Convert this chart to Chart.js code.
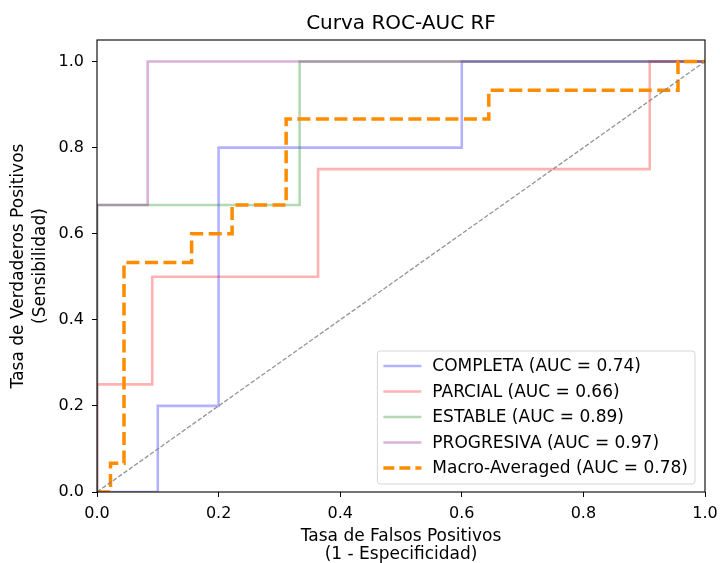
<!DOCTYPE html>
<html>
<head>
<meta charset="utf-8">
<script src="https://cdn.jsdelivr.net/npm/chart.js@4.4.1/dist/chart.umd.min.js"></script>
<style>
    body { margin: 0; background: #fff; }
    #wrap { width: 720px; height: 563px; position: relative; }
</style>
</head>
<body>
<div id="wrap"><canvas id="chart"></canvas></div>
<script>
// curvas ROC (tasa de falsos positivos / verdaderos positivos)
const classNames = ['COMPLETA', 'PARCIAL', 'ESTABLE', 'PROGRESIVA'];
const aucValues = [0.74, 0.66, 0.89, 0.97];
const macroAuc = 0.78;

const fprCompleta = [0, 0.1, 0.1, 0.2, 0.2, 0.6, 0.6, 1];
const tprCompleta = [0, 0, 0.2, 0.2, 0.8, 0.8, 1, 1];

const fprParcial = [0, 0, 0.0909, 0.0909, 0.3636, 0.3636, 0.9091, 0.9091, 1];
const tprParcial = [0, 0.25, 0.25, 0.5, 0.5, 0.75, 0.75, 1, 1];

const fprEstable = [0, 0, 0.3333, 0.3333, 1];
const tprEstable = [0, 0.6667, 0.6667, 1, 1];

const fprProgresiva = [0, 0, 0.0833, 0.0833, 1];
const tprProgresiva = [0, 0.6667, 0.6667, 1, 1];

const fprMacro = [0, 0.0222, 0.0222, 0.0444, 0.0444, 0.1556, 0.1556, 0.2222, 0.2222, 0.3111, 0.3111, 0.6444, 0.6444, 0.9556, 0.9556, 1];
const tprMacro = [0, 0, 0.0667, 0.0667, 0.5333, 0.5333, 0.6, 0.6, 0.6667, 0.6667, 0.8667, 0.8667, 0.9333, 0.9333, 1, 1];

const diagX = [0, 1];
const diagY = [0, 1];

const xTicks = [0, 0.2, 0.4, 0.6, 0.8, 1.0];
const yTicks = [0, 0.2, 0.4, 0.6, 0.8, 1.0];

const chartTitle = 'Curva ROC-AUC RF';
const FONT = "'DejaVu Sans', sans-serif";

function pts(xs, ys) {
    return xs.map((x, i) => ({ x: x, y: ys[i] }));
}

const classColors = ['rgba(0,0,255,0.3)', 'rgba(255,0,0,0.3)', 'rgba(0,128,0,0.3)', 'rgba(128,0,128,0.3)'];
const classData = [
    pts(fprCompleta, tprCompleta),
    pts(fprParcial, tprParcial),
    pts(fprEstable, tprEstable),
    pts(fprProgresiva, tprProgresiva)
];

const datasets = classNames.map((name, i) => ({
    label: name + ' (AUC = ' + aucValues[i].toFixed(2) + ')',
    data: classData[i],
    borderColor: classColors[i],
    borderWidth: 2.6,
    order: 5 - i
}));
datasets.push({
    label: 'Macro-Averaged (AUC = ' + macroAuc.toFixed(2) + ')',
    data: pts(fprMacro, tprMacro),
    borderColor: '#ff8c00',
    borderWidth: 3.5,
    borderDash: [13, 5.5],
    order: 1
});
datasets.push({
    label: 'azar',
    data: pts(diagX, diagY),
    borderColor: 'rgba(128,128,128,0.85)',
    borderWidth: 1.3,
    borderDash: [4.5, 2],
    order: 0,
    noLegend: true
});
datasets.forEach(d => {
    d.showLine = true;
    d.pointRadius = 0;
    d.fill = false;
    d.tension = 0;
    d.borderCapStyle = 'butt';
});

// titulo centrado sobre los ejes, caja de ejes completa y leyenda abajo a la derecha
const boxAndLegend = {
    id: 'boxAndLegend',
    afterDatasetsDraw(chart) {
        const { ctx, chartArea } = chart;
        ctx.save();
        ctx.strokeStyle = '#000';
        ctx.lineWidth = 1.1;
        ctx.strokeRect(chartArea.left, chartArea.top, chartArea.right - chartArea.left, chartArea.bottom - chartArea.top);

        ctx.fillStyle = '#000';
        ctx.font = '20px ' + FONT;
        ctx.textAlign = 'center';
        ctx.textBaseline = 'middle';
        ctx.fillText(chartTitle, (chartArea.left + chartArea.right) / 2, chartArea.top - 16);

        const items = chart.data.datasets.filter(d => !d.noLegend);
        ctx.font = '17px ' + FONT;
        let maxW = 0;
        items.forEach(d => { maxW = Math.max(maxW, ctx.measureText(d.label).width); });
        const rowH = 25.5;
        const w = 55 + maxW + 7;
        const h = 15 + (items.length - 1) * rowH + 16;
        const x0 = chartArea.right - 10 - w;
        const y0 = chartArea.bottom - 8 - h;

        ctx.beginPath();
        ctx.roundRect(x0, y0, w, h, 3);
        ctx.fillStyle = 'rgba(255,255,255,0.8)';
        ctx.fill();
        ctx.strokeStyle = '#d6d6d6';
        ctx.lineWidth = 1;
        ctx.stroke();

        items.forEach((d, i) => {
            const cy = y0 + 15 + i * rowH;
            ctx.beginPath();
            ctx.strokeStyle = d.borderColor;
            ctx.lineWidth = d.borderWidth;
            ctx.setLineDash(d.borderDash ? [11, 5] : []);
            ctx.moveTo(x0 + 6, cy);
            ctx.lineTo(x0 + 44, cy);
            ctx.stroke();
            ctx.setLineDash([]);
            ctx.fillStyle = '#000';
            ctx.textBaseline = 'middle';
            ctx.textAlign = 'left';
            ctx.fillText(d.label, x0 + 55, cy + 1);
        });
        ctx.restore();
    }
};

const ctx = document.getElementById('chart').getContext('2d');
const chart = new Chart(ctx, {
    type: 'scatter',
    data: { datasets: datasets },
    options: {
        responsive: true,
        maintainAspectRatio: false,
        animation: false,
        layout: { padding: { top: 40, right: 15, left: 0, bottom: 0 } },
        plugins: {
            legend: { display: false },
            tooltip: { enabled: false },
            title: { display: false }
        },
        scales: {
            x: {
                type: 'linear',
                min: 0,
                max: 1,
                afterBuildTicks: axis => { axis.ticks = xTicks.map(v => ({ value: v })); },
                afterFit: axis => {
                    axis.height = 71;
                    axis.paddingLeft = 0;
                    axis.paddingRight = 0;
                },
                grid: { display: true, drawOnChartArea: false, drawTicks: true, tickLength: 5, color: '#000', tickWidth: 1 },
                border: { display: false },
                ticks: {
                    color: '#000',
                    padding: 7,
                    maxRotation: 0,
                    font: { family: FONT, size: 16 },
                    callback: v => Number(v).toFixed(1)
                },
                title: {
                    display: true,
                    text: ['Tasa de Falsos Positivos', '(1 - Especificidad)'],
                    color: '#000',
                    font: { family: FONT, size: 17, lineHeight: '18px' },
                    padding: { top: 0, bottom: -1 }
                }
            },
            y: {
                type: 'linear',
                min: 0,
                max: 1.05,
                afterBuildTicks: axis => { axis.ticks = yTicks.map(v => ({ value: v })); },
                afterFit: axis => {
                    axis.width = 97;
                    axis.paddingTop = 0;
                    axis.paddingBottom = 0;
                },
                grid: { display: true, drawOnChartArea: false, drawTicks: true, tickLength: 5, color: '#000', tickWidth: 1 },
                border: { display: false },
                ticks: {
                    color: '#000',
                    padding: 8,
                    font: { family: FONT, size: 16 },
                    callback: v => Number(v).toFixed(1)
                },
                title: {
                    display: true,
                    text: ['Tasa de Verdaderos Positivos', '(Sensibilidad)'],
                    color: '#000',
                    font: { family: FONT, size: 17, lineHeight: '22px' },
                    padding: { top: 8, bottom: 0 }
                }
            }
        }
    },
    plugins: [boxAndLegend]
});
</script>
</body>
</html>
